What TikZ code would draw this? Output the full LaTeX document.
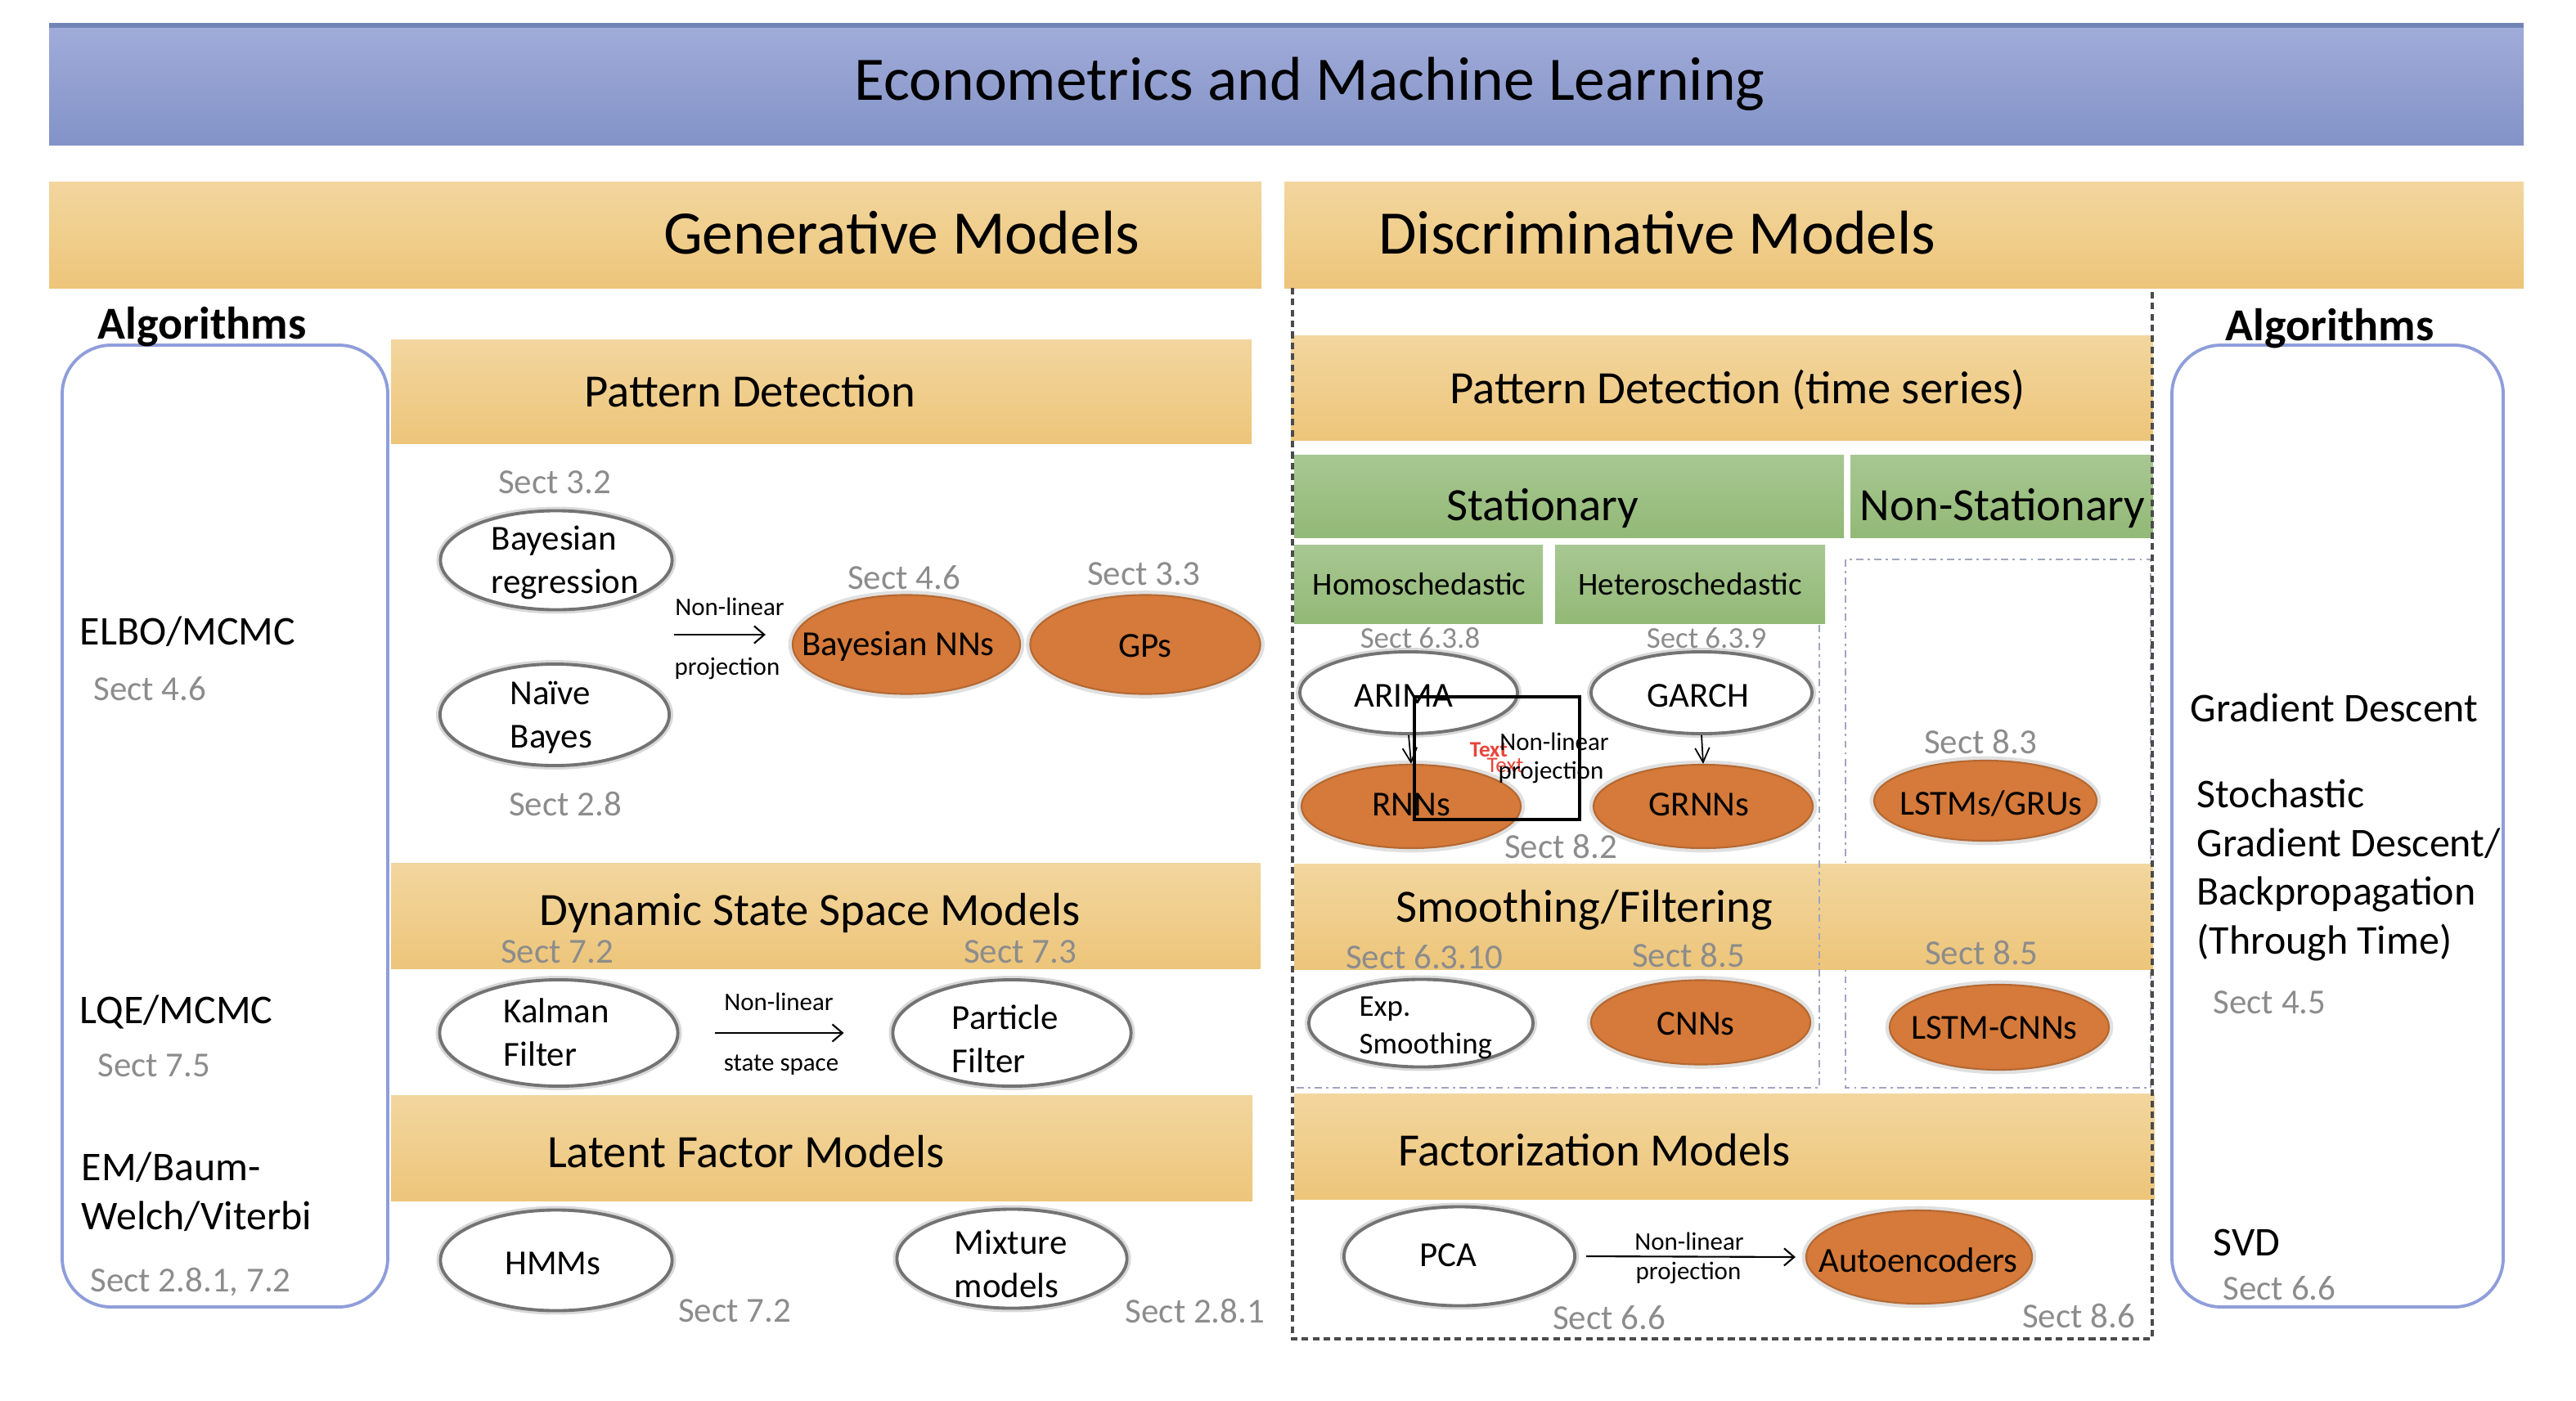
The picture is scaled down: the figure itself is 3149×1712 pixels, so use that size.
\documentclass[tikz,border=0pt]{standalone}
\usepackage{fontspec}
\setmainfont{Carlito}
\usetikzlibrary{shapes.geometric,arrows.meta}

\definecolor{ttltop}{RGB}{161,172,217}
\definecolor{ttlbot}{RGB}{131,147,199}
\definecolor{ttledge}{RGB}{114,132,182}
\definecolor{bandtop}{RGB}{242,214,158}
\definecolor{bandbot}{RGB}{237,197,122}
\definecolor{grntop}{RGB}{168,199,146}
\definecolor{grnbot}{RGB}{146,185,118}
\definecolor{ellorange}{RGB}{213,122,58}
\definecolor{algedge}{RGB}{143,158,218}
\definecolor{sectgray}{RGB}{140,140,140}
\definecolor{dashedge}{RGB}{75,75,75}
\definecolor{dotedge}{RGB}{160,166,190}
\definecolor{txtred}{RGB}{232,68,58}

\tikzset{
  ttlband/.style={top color=ttltop, bottom color=ttlbot},
  band/.style={top color=bandtop, bottom color=bandbot},
  gband/.style={top color=grntop, bottom color=grnbot},
  algbox/.style={draw=algedge, line width=1.1pt, rounded corners=0.6cm},
  mainbox/.style={draw=dashedge, line width=1.1pt, dash pattern=on 2.3pt off 1.5pt},
  subbox/.style={draw=dotedge, line width=0.8pt, dash pattern=on 2.5pt off 1.5pt on 0.8pt off 1.5pt},
  wellipse/.style={ellipse, draw=black!55, line width=1.1pt, fill=white, inner sep=0pt,
    preaction={draw=black!15, line width=2.8pt}},
  oellipse/.style={ellipse, fill=ellorange, draw=ellorange!85!black, line width=0.6pt, inner sep=0pt,
    preaction={draw=black!12, line width=3pt}},
  ttl/.style={font=\fontsize{21.5pt}{25pt}\selectfont, inner sep=0pt},
  bandlbl/.style={font=\fontsize{16.1pt}{19pt}\selectfont, inner sep=0pt},
  hetlbl/.style={font=\fontsize{11.1pt}{13pt}\selectfont, inner sep=0pt},
  elbl/.style={font=\fontsize{12.2pt}{15pt}\selectfont, align=left, inner sep=0pt},
  elbls/.style={font=\fontsize{10.5pt}{13pt}\selectfont, align=left, inner sep=0pt},
  sectlbl/.style={font=\fontsize{12.2pt}{15pt}\selectfont, text=sectgray, inner sep=0pt},
  sectsm/.style={font=\fontsize{10.5pt}{13pt}\selectfont, text=sectgray, inner sep=0pt},
  arrlbl/.style={font=\fontsize{8.8pt}{10pt}\selectfont, inner sep=0pt},
  redlbl/.style={font=\fontsize{7.7pt}{9pt}\selectfont, text=txtred, inner sep=0pt},
  algtitle/.style={font=\bfseries\fontsize{15.9pt}{19pt}\selectfont, inner sep=0pt},
  alglbl/.style={font=\fontsize{14.2pt}{17pt}\selectfont, align=left, anchor=west, inner sep=0pt},
  algsect/.style={sectlbl, anchor=west},
  nlarrow/.style={-{Straight Barb[length=3.5pt,width=6pt]}, line width=0.6pt},
  downarrow/.style={-{Straight Barb[length=5pt,width=5pt]}, line width=0.5pt}
}

\begin{document}
\begin{tikzpicture}[x=0.01cm, y=-0.01cm]
\useasboundingbox (0,0) rectangle (3149,1712);

%%%%% TITLE %%%%%
\shade[ttlband] (60,28) rectangle (3085,177);
\fill[ttledge] (60,28) rectangle (3085,34);
\node[ttl] (title) at (1601,103) {Econometrics and Machine Learning};

%%%%% MAIN BANDS %%%%%
\shade[band] (60,222) rectangle (1542,352);
\shade[band] (1570,222) rectangle (3085,352);
\node[ttl] (gen) at (1102,285) {Generative Models};
\node[ttl] (disc) at (2026,285) {Discriminative Models};

%%%%% ALGORITHM COLUMNS %%%%%
\draw[algbox] (76,422) rectangle (474,1598);
\draw[algbox] (2655,422) rectangle (3060,1598);
\node[algtitle] (algl) at (247,400) {Algorithms};
\node[algtitle] (algr) at (2848,402) {Algorithms};

\node[alglbl] (elbo) at (97,772) {ELBO/MCMC};
\node[algsect] (s46l) at (114,842) {Sect 4.6};
\node[alglbl] (lqe) at (97,1237) {LQE/MCMC};
\node[algsect] (s75) at (119,1303) {Sect 7.5};
\node[alglbl] (em) at (99,1457) {EM/Baum-\\Welch/Viterbi};
\node[algsect] (s281l) at (110,1568) {Sect 2.8.1, 7.2};

\node[alglbl] (gd) at (2677,865) {Gradient Descent};
\node[alglbl] (sgd) at (2685,1064) {Stochastic\\Gradient Descent/\\Backpropagation\\(Through Time)};
\node[algsect] (s45) at (2705,1226) {Sect 4.5};
\node[alglbl] (svd) at (2705,1519) {SVD};
\node[algsect] (s66r) at (2717,1575) {Sect 6.6};

%%%%% GENERATIVE SIDE %%%%%
\shade[band] (478,415) rectangle (1530,542);
\node[bandlbl] (pdl) at (917,478) {Pattern Detection};
\shade[band] (478,1055) rectangle (1541,1184);
\node[bandlbl] (dssm) at (990,1116) {Dynamic State Space Models};
\shade[band] (478,1339) rectangle (1531,1468);
\node[bandlbl] (lfm) at (912,1408) {Latent Factor Models};

\node[wellipse, minimum width=2.83cm, minimum height=1.21cm] (bayreg) at (680,685) {};
\node[wellipse, minimum width=2.80cm, minimum height=1.24cm] (naive) at (678,874) {};
\node[oellipse, minimum width=2.78cm, minimum height=1.21cm] (bnn) at (1108,788) {};
\node[oellipse, minimum width=2.81cm, minimum height=1.21cm] (gps) at (1400,788) {};
\node[elbl, anchor=west] (bayregtxt) at (600,688) {Bayesian\\regression};
\node[elbl, anchor=west] (naivetxt) at (623,877) {Naïve\\Bayes};
\node[elbl] (bnntxt) at (1098,790) {Bayesian NNs};
\node[elbl] (gpstxt) at (1400,790) {GPs};
\node[sectlbl] (s32) at (678,590) {Sect 3.2};
\node[sectlbl] (s46) at (1105,706) {Sect 4.6};
\node[sectlbl] (s33) at (1398,702) {Sect 3.3};
\node[sectlbl] (s28) at (691,983) {Sect 2.8};
\coordinate (pdfrom) at (824,776);
\draw[nlarrow, shorten >=0.32cm] (pdfrom) -- (pdfrom -| bnn.west);
\node[arrlbl] (pdnl) at (892,742) {Non-linear};
\node[arrlbl] (pdpr) at (889,817) {projection};

\node[wellipse, minimum width=2.91cm, minimum height=1.30cm] (kalman) at (683,1263) {};
\node[wellipse, minimum width=2.91cm, minimum height=1.30cm] (particle) at (1237,1263) {};
\node[elbl, anchor=west] (kalmantxt) at (615,1262) {Kalman\\Filter};
\node[elbl, anchor=west] (particletxt) at (1163,1270) {Particle\\Filter};
\node[sectlbl] (s72a) at (681,1164) {Sect 7.2};
\node[sectlbl] (s73) at (1247,1164) {Sect 7.3};
\draw[nlarrow, shorten <=0.43cm, shorten >=0.58cm] (kalman.east) -- (particle.west);
\node[arrlbl] (ssnl) at (952,1225) {Non-linear};
\node[arrlbl] (ssst) at (955,1302) {state space};

\node[wellipse, minimum width=2.83cm, minimum height=1.23cm] (hmm) at (680,1541) {};
\node[wellipse, minimum width=2.81cm, minimum height=1.21cm] (mixture) at (1237,1539) {};
\node[elbl] (hmmtxt) at (676,1545) {HMMs};
\node[elbl, anchor=west] (mixtxt) at (1166,1545) {Mixture\\models};
\node[sectlbl] (s72b) at (898,1603) {Sect 7.2};
\node[sectlbl] (s281) at (1461,1603) {Sect 2.8.1};

%%%%% DISCRIMINATIVE SIDE %%%%%
\shade[band] (1578,410) rectangle (2632,538);
\node[bandlbl] (pdr) at (2124,477) {Pattern Detection (time series)};
\shade[gband] (1582,556) rectangle (2254,657);
\shade[gband] (2262,556) rectangle (2632,657);
\node[bandlbl] (stat) at (1886,621) {Stationary};
\node[bandlbl] (nonstat) at (2448,621) {Non-Stationary};
\shade[gband] (1582,666) rectangle (1886,762);
\shade[gband] (1901,666) rectangle (2231,762);
\node[hetlbl] (homo) at (1735,714) {Homoschedastic};
\node[hetlbl] (hetero) at (2066,714) {Heteroschedastic};

\draw[subbox] (2256,684) rectangle (2629,1330);
\shade[band] (1582,1056) rectangle (2632,1185);
\node[bandlbl] (smooth) at (1937,1113) {Smoothing/Filtering};
\draw[subbox] (2224,764) -- (2224,1330) -- (1584,1330);
\shade[band] (1582,1337) rectangle (2634,1466);
\node[bandlbl] (fact) at (1949,1406) {Factorization Models};
\draw[mainbox] (1580,352) -- (1580,1637) -- (2631,1637) -- (2631,352);

\node[wellipse, minimum width=2.66cm, minimum height=1.00cm] (arima) at (1722,847) {};
\node[wellipse, minimum width=2.70cm, minimum height=1.00cm] (garch) at (2080,847) {};
\node[oellipse, minimum width=2.68cm, minimum height=1.02cm] (rnn) at (1725,986) {};
\node[oellipse, minimum width=2.68cm, minimum height=1.02cm] (grnn) at (2082,986) {};
\node[oellipse, minimum width=2.72cm, minimum height=0.98cm] (lstm) at (2427,979) {};
\node[elbl] (arimatxt) at (1716,851) {ARIMA};
\node[elbl] (garchtxt) at (2076,851) {GARCH};
\node[elbl] (rnntxt) at (1725,984) {RNNs};
\node[elbl] (grnntxt) at (2077,984) {GRNNs};
\node[elbl] (lstmtxt) at (2434,983) {LSTMs/GRUs};
\node[sectsm] (s638) at (1736,780) {Sect 6.3.8};
\node[sectsm] (s639) at (2086,780) {Sect 6.3.9};
\node[sectlbl] (s82) at (1908,1035) {Sect 8.2};
\node[sectlbl] (s83) at (2421,907) {Sect 8.3};
\draw[downarrow] (arima.south) -- (rnn.north);
\draw[downarrow] (garch.south) -- (grnn.north);

\node[wellipse, minimum width=2.74cm, minimum height=1.07cm] (expsm) at (1737,1251) {};
\node[oellipse, minimum width=2.68cm, minimum height=1.03cm] (cnn) at (2079,1250) {};
\node[oellipse, minimum width=2.68cm, minimum height=1.04cm] (lcnn) at (2444,1256) {};
\node[elbls, anchor=west] (exptxt) at (1661,1257) {Exp.\\Smoothing};
\node[elbl] (cnntxt) at (2073,1252) {CNNs};
\node[elbl] (lcnntxt) at (2438,1257) {LSTM-CNNs};
\node[sectlbl] (s6310) at (1741,1170) {Sect 6.3.10};
\node[sectlbl] (s85a) at (2064,1168) {Sect 8.5};
\node[sectlbl] (s85b) at (2422,1165) {Sect 8.5};

\node[wellipse, minimum width=2.82cm, minimum height=1.21cm] (pca) at (1784,1536) {};
\node[oellipse, minimum width=2.76cm, minimum height=1.14cm] (autoenc) at (2346,1537) {};
\node[elbl] (pcatxt) at (1770,1535) {PCA};
\node[elbl] (autotxt) at (2345,1541) {Autoencoders};
\draw[nlarrow, shorten <=0.12cm, shorten >=0.12cm] (pca.east) -- (autoenc.west);
\node[arrlbl] (fnl) at (2065,1518) {Non-linear};
\node[arrlbl] (fpr) at (2064,1556) {projection};
\node[sectlbl] (s66) at (1967,1611) {Sect 6.6};
\node[sectlbl] (s86) at (2541,1609) {Sect 8.6};

%%%%% LOOSE TEXT BOX %%%%%
\node[redlbl, font=\bfseries\fontsize{7.7pt}{9pt}\selectfont] (red1) at (1820,917) {Text};
\node[redlbl] (red2) at (1840,936) {Text};
\node[arrlbl] (sqnl) at (1900,907) {Non-linear};
\node[arrlbl] (sqpr) at (1896,944) {projection};
\draw[line width=1.3pt] (1729,852) rectangle (1931,1002);

\end{tikzpicture}
\end{document}
